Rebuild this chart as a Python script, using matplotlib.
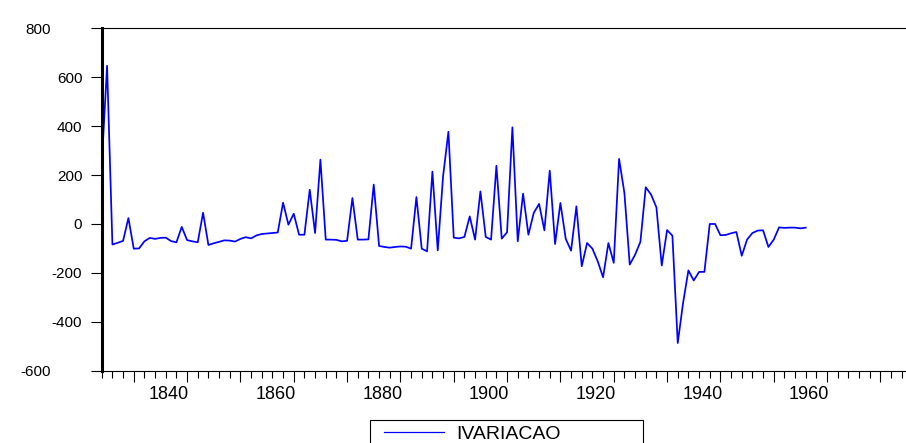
import matplotlib.pyplot as plt
import matplotlib.transforms as mtransforms
from matplotlib.patches import Rectangle
import numpy as np

plt.rcParams['font.family'] = ['Liberation Sans', 'DejaVu Sans']

# annual series, 1824-1956
years = np.arange(1824, 1957)
ivariacao = [
    242, 647, -84, -77, -69, 24, -101, -100, -71, -57,
    -61, -57, -56, -70, -75, -12, -66, -71, -75, 46,
    -86, -79, -73, -67, -68, -72, -61, -54, -59, -47,
    -41, -39, -37, -35, 87, -3, 42, -44, -44, 140,
    -37, 263, -64, -64, -65, -71, -69, 106, -64, -64,
    -63, 161, -90, -94, -97, -94, -92, -93, -101, 110,
    -101, -112, 214, -108, 195, 377, -56, -59, -53, 31,
    -64, 133, -53, -64, 238, -60, -34, 395, -71, 124,
    -44, 45, 82, -26, 218, -82, 86, -61, -109, 72,
    -173, -78, -101, -153, -218, -78, -159, 266, 127, -166,
    -126, -73, 150, 120, 68, -170, -25, -48, -487, -323,
    -190, -231, -196, -196, 0, 0, -46, -45, -38, -33,
    -130, -64, -37, -27, -26, -94, -64, -14, -16, -15,
    -15, -18, -15,
]
yticks = [800, 600, 400, 200, 0, -200, -400, -600]
xlabel_years = [1840, 1860, 1880, 1900, 1920, 1940, 1960]

fig = plt.figure(figsize=(9.06, 4.43), dpi=100)
ax = fig.add_axes([0.1123, 0.1632, 0.8877, 0.7729])

ax.plot(years, ivariacao, color='#0000ff', lw=1.25, label='IVARIACAO')

ax.set_xlim(1824, 1974.8)
ax.set_ylim(-600, 800)

# y axis
ax.set_yticks(yticks)
ax.set_yticklabels([str(v) for v in yticks])
ax.tick_params(axis='y', direction='out', length=8, width=0.8, labelsize=11, pad=6)

# x axis: short ticks every 2 years, long every 10, labels every 20
ax.set_xticks(np.arange(1830, 1975, 10))
ax.set_xticks(np.arange(1824, 1975, 2), minor=True)
ax.set_xticklabels([str(y) if y in xlabel_years else '' for y in np.arange(1830, 1975, 10)])
ax.tick_params(axis='x', which='major', direction='out', length=8, width=0.8,
               labelsize=13, pad=3)
ax.tick_params(axis='x', which='minor', direction='out', length=5, width=0.8)

shift = mtransforms.ScaledTranslation(2 / 100, 0, fig.dpi_scale_trans)
for lab in ax.get_xticklabels():
    lab.set_horizontalalignment('right')
    lab.set_transform(lab.get_transform() + shift)

# end labels on the y axis sit further left
edge_shift = mtransforms.ScaledTranslation(-31 / 100, 0, fig.dpi_scale_trans)
ylabs = ax.get_yticklabels()
for lab in (ylabs[0], ylabs[-1]):
    lab.set_transform(lab.get_transform() + edge_shift)

ax.spines['right'].set_visible(False)
ax.spines['left'].set_linewidth(2.2)
ax.spines['top'].set_linewidth(0.8)
ax.spines['bottom'].set_linewidth(0.8)

# legend box below the plot
fig.patches.append(Rectangle((370 / 906, -0.05), 273 / 906, 0.05 + 23 / 443,
                             transform=fig.transFigure, fill=False,
                             edgecolor='black', lw=0.8))
fig.legend(loc='center left', bbox_to_anchor=(384 / 906, 9 / 443),
           frameon=False, fontsize=14, handlelength=3.1, handletextpad=0.6,
           borderpad=0, borderaxespad=0)
for line in fig.legends[0].get_lines():
    line.set_linewidth(0.9)

fig.savefig('out.png', dpi=100)
